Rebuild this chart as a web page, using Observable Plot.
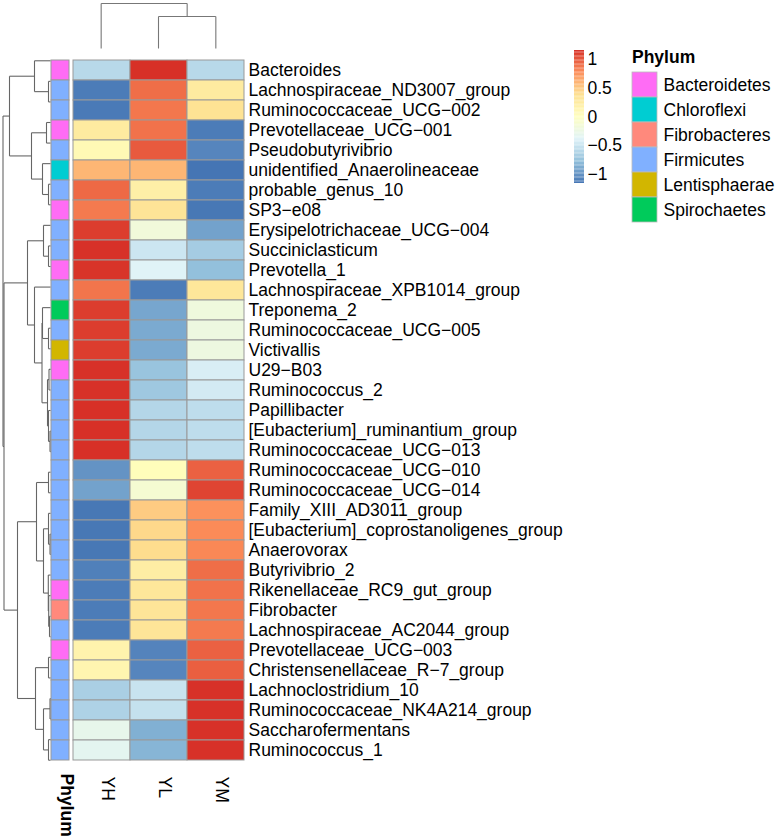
<!DOCTYPE html>
<html>
<head>
<meta charset="utf-8">
<script src="https://cdn.jsdelivr.net/npm/d3@7"></script>
<script src="https://cdn.jsdelivr.net/npm/@observablehq/plot@0.6"></script>
<style>
  html, body { margin: 0; padding: 0; background: #fff; }
  #chart { position: relative; width: 775px; height: 839px; background: #fff; overflow: hidden;
           font-family: "Liberation Sans", Arial, Helvetica, sans-serif; }
  #chart svg { position: absolute; }
  #legend-title { position: absolute; left: 632px; top: 47px; height: 21px; line-height: 21px;
                  font-size: 17.5px; font-weight: bold; color: #000; }
</style>
</head>
<body>
<div id="chart"><div id="legend-title">Phylum</div></div>
<script>
// ---------------- data ----------------
const columns = ["YH", "YL", "YM"];

const taxa = [
  "Bacteroides", "Lachnospiraceae_ND3007_group", "Ruminococcaceae_UCG−002",
  "Prevotellaceae_UCG−001", "Pseudobutyrivibrio", "unidentified_Anaerolineaceae",
  "probable_genus_10", "SP3−e08", "Erysipelotrichaceae_UCG−004", "Succiniclasticum",
  "Prevotella_1", "Lachnospiraceae_XPB1014_group", "Treponema_2", "Ruminococcaceae_UCG−005",
  "Victivallis", "U29−B03", "Ruminococcus_2", "Papillibacter",
  "[Eubacterium]_ruminantium_group", "Ruminococcaceae_UCG−013", "Ruminococcaceae_UCG−010",
  "Ruminococcaceae_UCG−014", "Family_XIII_AD3011_group", "[Eubacterium]_coprostanoligenes_group",
  "Anaerovorax", "Butyrivibrio_2", "Rikenellaceae_RC9_gut_group", "Fibrobacter",
  "Lachnospiraceae_AC2044_group", "Prevotellaceae_UCG−003", "Christensenellaceae_R−7_group",
  "Lachnoclostridium_10", "Ruminococcaceae_NK4A214_group", "Saccharofermentans", "Ruminococcus_1"
];

const taxonPhylum = [
  "Bacteroidetes", "Firmicutes", "Firmicutes", "Bacteroidetes", "Firmicutes", "Chloroflexi",
  "Firmicutes", "Bacteroidetes", "Firmicutes", "Firmicutes", "Bacteroidetes", "Firmicutes",
  "Spirochaetes", "Firmicutes", "Lentisphaerae", "Bacteroidetes", "Firmicutes", "Firmicutes",
  "Firmicutes", "Firmicutes", "Firmicutes", "Firmicutes", "Firmicutes", "Firmicutes",
  "Firmicutes", "Firmicutes", "Bacteroidetes", "Fibrobacteres", "Firmicutes", "Bacteroidetes",
  "Firmicutes", "Firmicutes", "Firmicutes", "Firmicutes", "Firmicutes"
];

// row z-scores per group
const valuesYH = [-0.58, -1.12, -1.13, 0.25, 0.08, 0.58, 0.92, 0.85, 1.10, 1.15,
  1.14, 0.87, 1.10, 1.10, 1.10, 1.15, 1.15, 1.155, 1.155, 1.155,
  -1.00, -0.92, -1.14, -1.14, -1.14, -1.10, -1.12, -1.12, -1.12, 0.15,
  0.12, -0.65, -0.63, -0.30, -0.33];
const valuesYL = [1.155, 0.90, 0.86, 0.88, 0.98, 0.58, 0.20, 0.33, -0.18, -0.48,
  -0.38, -1.12, -0.90, -0.88, -0.88, -0.73, -0.70, -0.60, -0.60, -0.60,
  0.03, -0.13, 0.48, 0.42, 0.40, 0.22, 0.30, 0.32, 0.32, -1.08,
  -1.07, -0.50, -0.52, -0.85, -0.82];
const valuesYM = [-0.58, 0.25, 0.35, -1.12, -1.07, -1.155, -1.12, -1.14, -0.92, -0.67,
  -0.76, 0.30, -0.20, -0.22, -0.22, -0.42, -0.45, -0.55, -0.55, -0.55,
  0.95, 1.07, 0.75, 0.78, 0.79, 0.90, 0.88, 0.86, 0.85, 0.95,
  0.96, 1.15, 1.15, 1.15, 1.15];

const phyla = ["Bacteroidetes", "Chloroflexi", "Fibrobacteres", "Firmicutes", "Lentisphaerae", "Spirochaetes"];
const phylumColors = ["#FF6CF5", "#00CDD2", "#FF897C", "#80B0FF", "#D2B600", "#00CB5B"];

const colorStops = [-1.1547, -0.7698, -0.3849, 0, 0.3849, 0.7698, 1.1547];
const heatColors = ["#4575B4", "#91BFDB", "#E0F3F8", "#FFFFBF", "#FEE090", "#FC8D59", "#D73027"];
const legendTicks = [-1, -0.5, 0, 0.5, 1];

// dendrograms: [height, left, right]; leaves are row indices / column names
const rowTree = [47.5,
  [41, [16, 0, [2, 1, 2]], [19, [4, 3, 4], [8, 5, [2, 6, 7]]]],
  [46.5,
    [23, [7, 8, [2, 9, 10]],
         [16, 11, [8.5, [8, 12, [2, 13, 14]], [3, [1.5, 15, 16], [2, 17, [0.5, 18, 19]]]]]],
    [33, [14, [2, 20, 21], [7, [2, 22, [0.5, 23, 24]], [2.2, 25, [1.8, 26, [1, 27, 28]]]]],
         [15, [2, 29, 30], [7, [0.5, 31, 32], [2, 33, 34]]]]]];
const colTree = [45, "YH", [32, "YL", "YM"]];

// ---------------- helpers ----------------
const FONT = '"Liberation Sans", Arial, Helvetica, sans-serif';
const colorScale = {type: "linear", domain: colorStops, range: heatColors, interpolate: "rgb"};

function dendroSegments(tree, leafPos) {
  const segs = [];
  (function walk(node) {
    if (!Array.isArray(node)) return {h: 0, p: leafPos(node)};
    const [h, a, b] = node;
    const A = walk(a), B = walk(b);
    segs.push({h1: A.h, p1: A.p, h2: h, p2: A.p});
    segs.push({h1: B.h, p1: B.p, h2: h, p2: B.p});
    segs.push({h1: h, p1: A.p, h2: h, p2: B.p});
    return {h, p: (A.p + B.p) / 2};
  })(tree);
  return segs;
}

function place(svg, left, top) {
  svg.style.left = left + "px";
  svg.style.top = top + "px";
  document.getElementById("chart").appendChild(svg);
}

const baseStyle = {background: "transparent", fontFamily: FONT, fontSize: "17.5px", overflow: "visible", color: "#000"};

// ---------------- heatmap ----------------
const cells = [];
taxa.forEach((t, i) => {
  cells.push({taxon: t, col: "YH", value: valuesYH[i]});
  cells.push({taxon: t, col: "YL", value: valuesYL[i]});
  cells.push({taxon: t, col: "YM", value: valuesYM[i]});
});

const HM_W = 172, HM_H = 720;

place(Plot.plot({
  width: HM_W + 300, height: HM_H + 69,
  marginLeft: 0, marginTop: 0, marginRight: 300, marginBottom: 69,
  style: baseStyle,
  x: {type: "band", domain: columns, padding: 0, axis: null},
  y: {type: "band", domain: taxa, padding: 0, axis: null},
  color: colorScale,
  marks: [
    Plot.cell(cells, {x: "col", y: "taxon", fill: "value", stroke: "#999", strokeWidth: 1, inset: 0}),
    Plot.text(taxa, {y: d => d, text: d => d, frameAnchor: "right", textAnchor: "start", dx: 4, fontSize: 17.5, fill: "#000"}),
    Plot.text(columns, {x: d => d, text: d => d, frameAnchor: "bottom", rotate: 90, textAnchor: "start", dy: 6, fontSize: 17.5, fill: "#000"})
  ]
}), 72, 50);

// ---------------- phylum annotation column ----------------
place(Plot.plot({
  width: 18, height: HM_H + 69,
  marginLeft: 0, marginTop: 0, marginRight: 0, marginBottom: 69,
  style: baseStyle,
  x: {type: "band", domain: ["Phylum"], padding: 0, axis: null},
  y: {type: "band", domain: taxa, padding: 0, axis: null},
  color: {type: "ordinal", domain: phyla, range: phylumColors},
  marks: [
    Plot.cell(taxa, {x: () => "Phylum", y: d => d, fill: (d, i) => taxonPhylum[i], stroke: "#999", strokeWidth: 1, inset: 0}),
    Plot.text(["Phylum"], {x: d => d, text: d => d, frameAnchor: "bottom", rotate: 90, textAnchor: "start", dy: 3, fontSize: 17.5, fontWeight: "bold", fill: "#000"})
  ]
}), 51, 50);

// ---------------- row dendrogram ----------------
const rowSegs = dendroSegments(rowTree, i => i);
place(Plot.plot({
  width: 52, height: HM_H,
  margin: 0,
  style: baseStyle,
  x: {type: "linear", domain: [0, rowTree[0]], range: [50, 2.5], axis: null},
  y: {type: "linear", domain: [-0.5, taxa.length - 0.5], range: [0, HM_H], axis: null},
  marks: [
    Plot.link(rowSegs, {x1: "h1", y1: "p1", x2: "h2", y2: "p2", stroke: "#666", strokeWidth: 1.1})
  ]
}), 0, 50);

// ---------------- column dendrogram ----------------
const colSegs = dendroSegments(colTree, c => columns.indexOf(c));
place(Plot.plot({
  width: HM_W, height: 50,
  margin: 0,
  style: baseStyle,
  x: {type: "linear", domain: [-0.5, columns.length - 0.5], range: [0, HM_W], axis: null},
  y: {type: "linear", domain: [0, colTree[0]], range: [48, 3], axis: null},
  marks: [
    Plot.link(colSegs, {x1: "p1", y1: "h1", x2: "p2", y2: "h2", stroke: "#777", strokeWidth: 1.1})
  ]
}), 72, 0);

// ---------------- colour bar legend ----------------
const nBins = 100;
const lo = colorStops[0], hi = colorStops[colorStops.length - 1];
const bins = d3.range(nBins).map(k => {
  const a = lo + (hi - lo) * k / nBins, b = lo + (hi - lo) * (k + 1) / nBins;
  return {a, b, v: (a + b) / 2};
});
place(Plot.plot({
  width: 60, height: 153,
  marginLeft: 0, marginRight: 50, marginTop: 10, marginBottom: 10,
  style: baseStyle,
  x: {domain: [0, 1], axis: null},
  y: {type: "linear", domain: [lo, hi], axis: null},
  color: colorScale,
  marks: [
    Plot.rect(bins, {x1: 0, x2: 1, y1: "a", y2: "b", fill: "v"}),
    Plot.text(legendTicks, {y: d => d, text: d => String(d).replace("-", "−"), frameAnchor: "right", textAnchor: "start", dx: 3, fontSize: 17.5, fill: "#000"})
  ]
}), 574, 40);

// ---------------- phylum legend ----------------
place(Plot.plot({
  width: 143, height: 155,
  margin: 0, marginRight: 118,
  style: baseStyle,
  x: {type: "band", domain: ["Phylum"], padding: 0, axis: null},
  y: {type: "band", domain: phyla, padding: 0, axis: null},
  color: {type: "ordinal", domain: phyla, range: phylumColors},
  marks: [
    Plot.cell(phyla, {x: () => "Phylum", y: d => d, fill: d => d, stroke: "#bbb", strokeWidth: 0.8, inset: 0}),
    Plot.text(phyla, {y: d => d, text: d => d, frameAnchor: "right", textAnchor: "start", dx: 6, fontSize: 17.5, fill: "#000"})
  ]
}), 632, 69);
</script>
</body>
</html>
